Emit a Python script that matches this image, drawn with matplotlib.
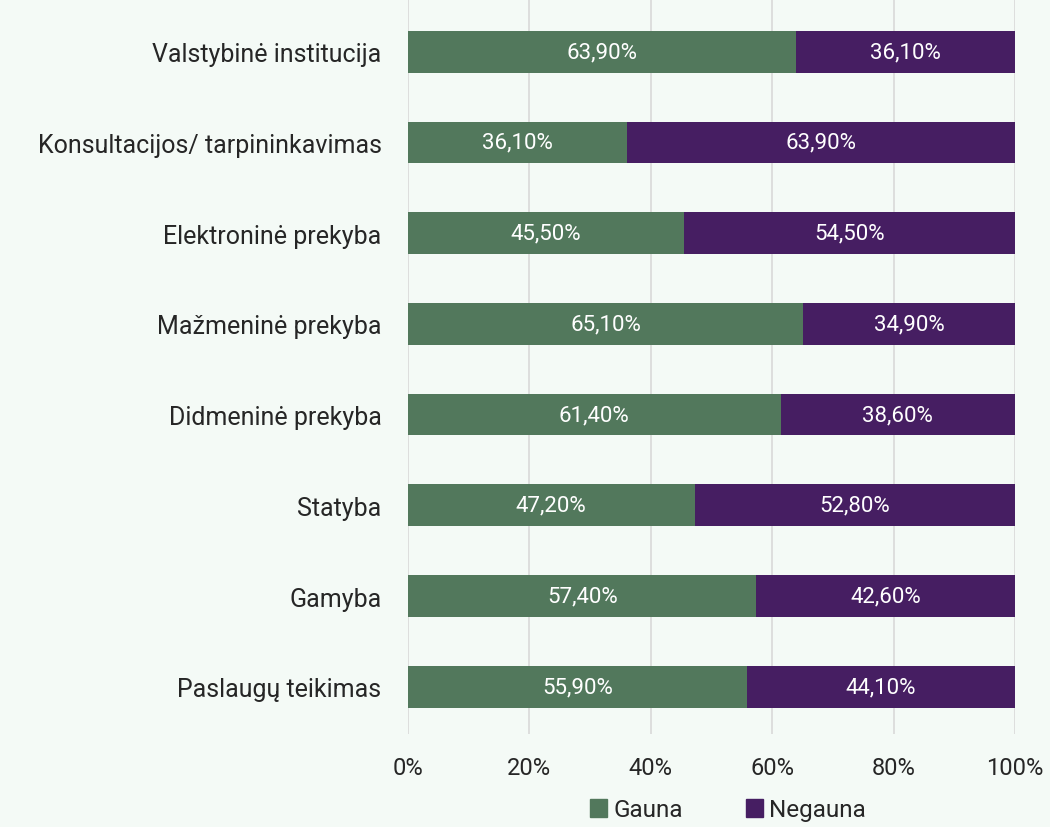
import matplotlib
matplotlib.use("Agg")
import matplotlib.pyplot as plt
from matplotlib.patches import Patch

categories = ["Paslaugų teikimas", "Gamyba", "Statyba", "Didmeninė prekyba",
              "Mažmeninė prekyba", "Elektroninė prekyba",
              "Konsultacijos/ tarpininkavimas", "Valstybinė institucija"]
gauna = [55.9, 57.4, 47.2, 61.4, 65.1, 45.5, 36.1, 63.9]
negauna = [44.1, 42.6, 52.8, 38.6, 34.9, 54.5, 63.9, 36.1]
series_names = ["Gauna", "Negauna"]
xticks = [0, 20, 40, 60, 80, 100]

bg = "#F4FAF6"
c_g = "#52785C"
c_n = "#461E62"
txt = "#262626"

plt.rcParams['font.family'] = ['Roboto', 'DejaVu Sans']

fig = plt.figure(figsize=(10.5, 8.28), dpi=100, facecolor=bg)
ax = fig.add_axes([408/1050, 1-735/828, (1015-408)/1050, 735/828])
ax.set_facecolor(bg)

y = list(range(len(categories)))
h = 0.46
ax.barh(y, gauna, height=h, color=c_g, zorder=3)
ax.barh(y, negauna, left=gauna, height=h, color=c_n, zorder=3)

def fmt(v):
    return f"{v:.2f}%".replace(".", ",")

for i in y:
    ax.text(gauna[i]/2, i, fmt(gauna[i]), ha="center", va="center",
            color="white", fontsize=16, zorder=4)
    ax.text(gauna[i] + negauna[i]/2, i, fmt(negauna[i]), ha="center", va="center",
            color="white", fontsize=16, zorder=4)

ax.set_xlim(0, 100)
ax.set_ylim(-0.52, 7.58)
ax.set_xticks(xticks)
ax.set_xticklabels([f"{t}%" for t in xticks], fontsize=17, color=txt)
ax.set_yticks(y)
ax.set_yticklabels(categories, fontsize=18, color=txt)
ax.tick_params(axis="both", length=0)
ax.tick_params(axis="x", pad=16)
ax.tick_params(axis="y", pad=19)
ax.grid(axis="x", color="#D9D9D9", linewidth=1.2, zorder=0)
for s in ax.spines.values():
    s.set_visible(False)

handles = [Patch(color=c_g, label=series_names[0]), Patch(color=c_n, label=series_names[1])]
fig.legend(handles=handles, loc="center", bbox_to_anchor=(728/1050, 1-811/828),
           ncol=2, frameon=False, fontsize=17.5, handlelength=0.7, handleheight=0.7,
           handletextpad=0.25, columnspacing=2.6, labelcolor=txt)

fig.savefig("out.png", dpi=100, facecolor=bg)
